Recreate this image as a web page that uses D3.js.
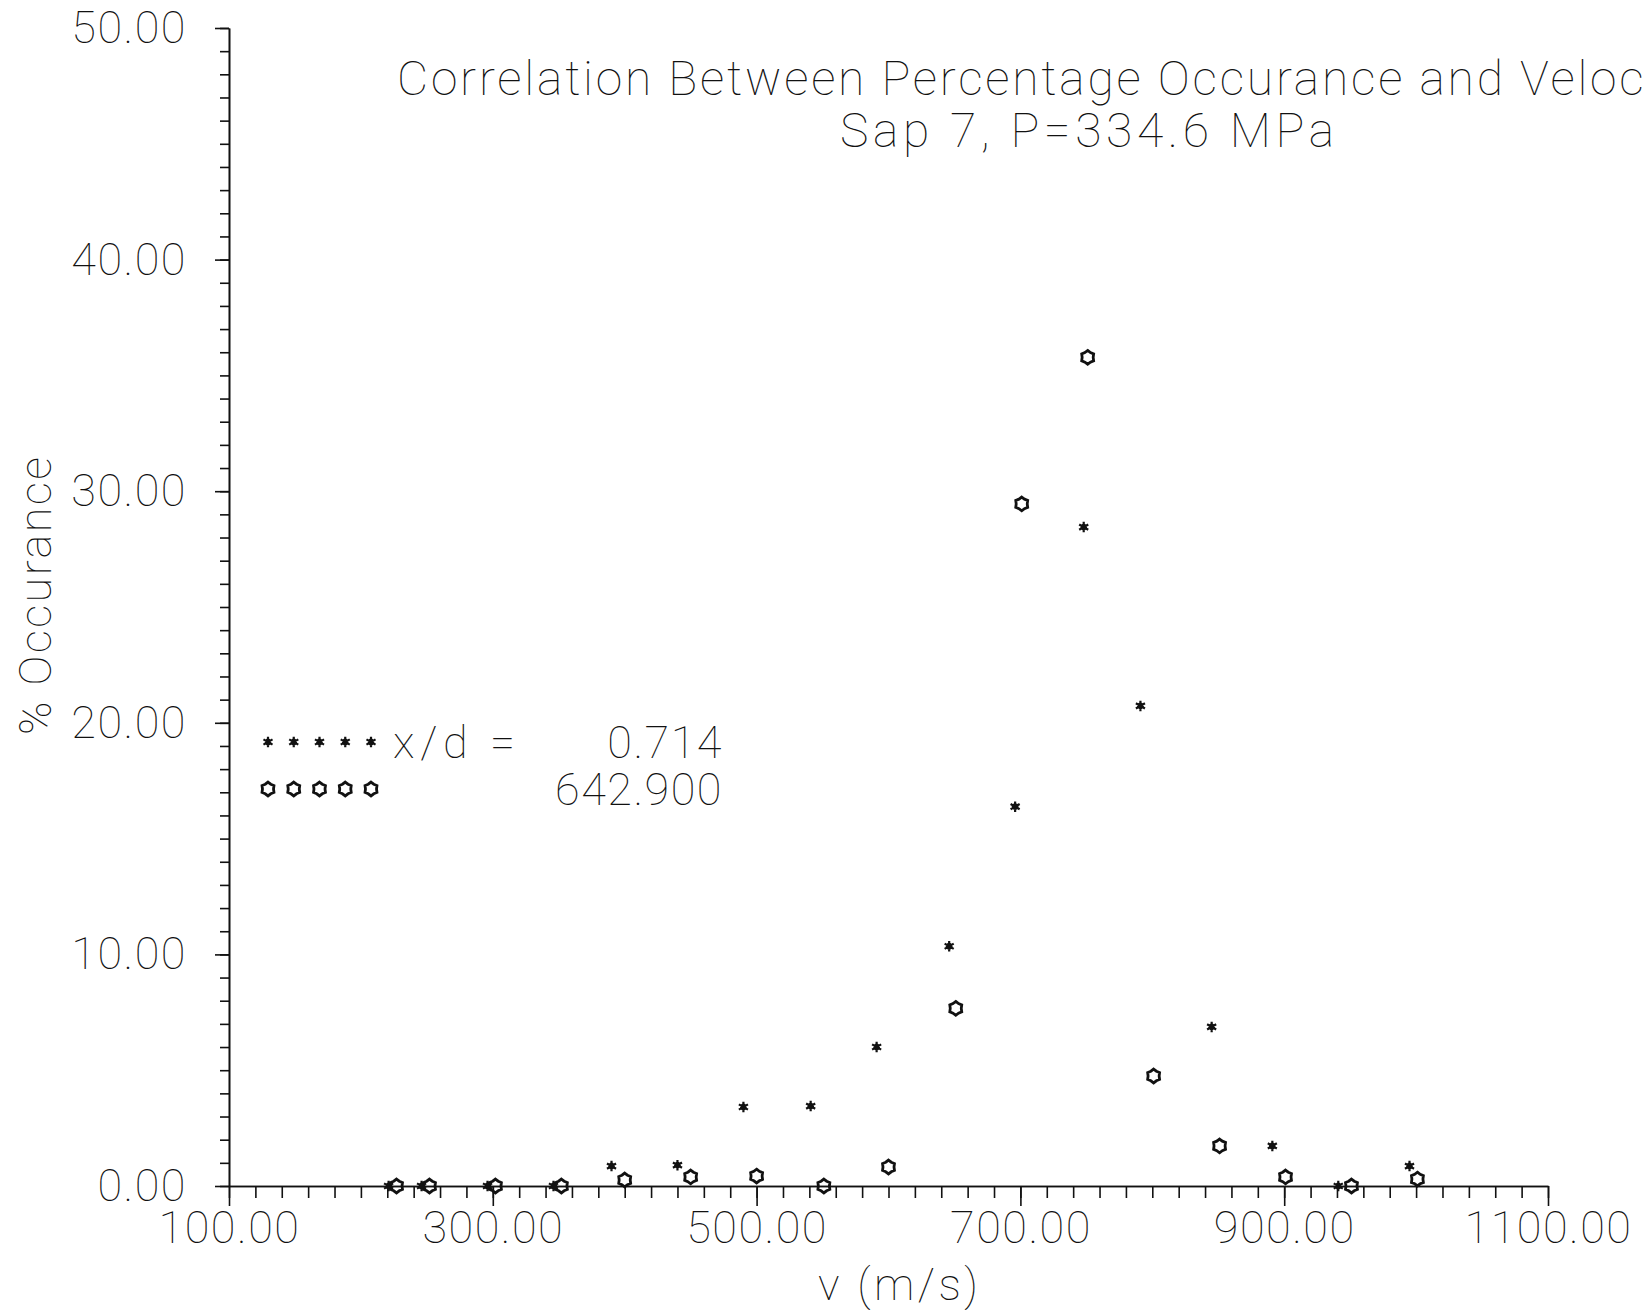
<!DOCTYPE html>
<html>
<head>
<meta charset="utf-8">
<script src="https://cdn.jsdelivr.net/npm/d3@7"></script>
<style>
  html, body { margin: 0; padding: 0; background: #fff; }
  svg { display: block; }
  text { font-family: "Roboto", "DejaVu Sans", sans-serif; font-weight: 100; fill: #111; }
</style>
</head>
<body>
<svg id="chart" width="1647" height="1310"></svg>
<script>
// ---------------- data ----------------
const titleLines = ["Correlation Between Percentage Occurance and Velocity", "Sap 7, P=334.6 MPa"];
const xLabel = "v (m/s)";
const yLabel = "% Occurance";

// series 1: x/d = 0.714 (star markers)
const starVelocity = [221, 246, 296, 346, 390, 440, 490, 541, 591, 646, 696, 748, 791, 845, 891, 941, 995];
const starPercent  = [0, 0, 0, 0, 0.86, 0.90, 3.41, 3.45, 6.00, 10.35, 16.38, 28.45, 20.73, 6.87, 1.73, 0, 0.86];

// series 2: 642.900 (hexagon markers)
const hexVelocity = [227, 252, 302, 352, 400, 450, 500, 551, 600, 651, 701, 751, 801, 851, 901, 951, 1001];
const hexPercent  = [0, 0, 0, 0, 0.26, 0.39, 0.43, 0, 0.82, 7.67, 29.45, 35.78, 4.75, 1.73, 0.39, 0, 0.30];

const xMajorTicks = [100, 300, 500, 700, 900, 1100];
const yMajorTicks = [0, 10, 20, 30, 40, 50];
const legendLabels = ["x/d =", ""];
const legendValues = ["0.714", "642.900"];

// ---------------- layout ----------------
const svg = d3.select("#chart");
const x = d3.scaleLinear().domain([100, 1100]).range([229, 1548]);
const y = d3.scaleLinear().domain([0, 50]).range([1186, 28]);
const fmt = d3.format(".2f");
const ink = "#111";
const fontW = 100;

// custom marker shapes
const asterisk = {
  draw(ctx, size) {
    const r = Math.sqrt(size) / 2;
    for (let i = 0; i < 3; i++) {
      const a = Math.PI / 2 + i * Math.PI / 3;
      ctx.moveTo(r * Math.cos(a), r * Math.sin(a));
      ctx.lineTo(-r * Math.cos(a), -r * Math.sin(a));
    }
    const q = r * 0.45;
    ctx.moveTo(q, 0);
    ctx.arc(0, 0, q, 0, 2 * Math.PI);
  }
};
const hexagram = {
  draw(ctx, size) {
    const r = Math.sqrt(size) / 2;
    for (let i = 0; i < 12; i++) {
      const a = -Math.PI / 2 + i * Math.PI / 6;
      const rr = i % 2 === 0 ? r : r * 0.8;
      if (i === 0) ctx.moveTo(rr * Math.cos(a), rr * Math.sin(a));
      else ctx.lineTo(rr * Math.cos(a), rr * Math.sin(a));
    }
    ctx.closePath();
  }
};
const starSym = d3.symbol().type(asterisk).size(110);
const hexSym = d3.symbol().type(hexagram).size(190);

// ---------------- axes ----------------
function styleAxis(g) {
  g.selectAll("path, line").attr("stroke", ink).attr("stroke-width", 1.6);
  g.selectAll("text").attr("fill", ink).style("font-size", "45px")
    .style("font-family", "Roboto, 'DejaVu Sans', sans-serif").style("font-weight", fontW);
}

// y minor
svg.append("g").attr("transform", `translate(${x(100)},0)`)
  .call(d3.axisLeft(y).tickValues(d3.range(0, 51, 1)).tickSize(9).tickSizeOuter(0).tickFormat(""))
  .call(styleAxis);
// y major
svg.append("g").attr("transform", `translate(${x(100)},0)`)
  .call(d3.axisLeft(y).tickValues(yMajorTicks).tickSize(14).tickSizeOuter(0).tickPadding(28).tickFormat(fmt))
  .call(styleAxis)
  .call(g => g.selectAll("text").attr("letter-spacing", "1.5px"));

// x minor
svg.append("g").attr("transform", `translate(0,${y(0)})`)
  .call(d3.axisBottom(x).tickValues(d3.range(100, 1101, 20)).tickSize(12).tickSizeOuter(0).tickFormat(""))
  .call(styleAxis);
// x major
svg.append("g").attr("transform", `translate(0,${y(0)})`)
  .call(d3.axisBottom(x).tickValues(xMajorTicks).tickSize(20).tickSizeOuter(0).tickPadding(5).tickFormat(fmt))
  .call(styleAxis)
  .call(g => g.selectAll("text").attr("letter-spacing", "1.5px"));

// ---------------- titles & labels ----------------
svg.append("text").attr("x", 397).attr("y", 95)
  .attr("textLength", 1303).attr("lengthAdjust", "spacing")
  .style("font-size", "48px").text(titleLines[0]);
svg.append("text").attr("x", 840).attr("y", 147)
  .attr("textLength", 494).attr("lengthAdjust", "spacing")
  .style("font-size", "48px").text(titleLines[1]);

svg.append("text").attr("transform", "translate(35,596) rotate(-90)")
  .attr("text-anchor", "middle").attr("dy", "0.35em")
  .attr("textLength", 278).attr("lengthAdjust", "spacing")
  .style("font-size", "45px").text(yLabel);

svg.append("text").attr("x", 898).attr("y", 1284)
  .attr("text-anchor", "middle").attr("dy", "0.35em")
  .attr("textLength", 160).attr("lengthAdjust", "spacing")
  .style("font-size", "45px").text(xLabel);

// ---------------- data points ----------------
const stars = starVelocity.map((v, i) => ({ v, p: starPercent[i] }));
const hexes = hexVelocity.map((v, i) => ({ v, p: hexPercent[i] }));

svg.append("g").selectAll("path").data(hexes).join("path")
  .attr("transform", d => `translate(${x(d.v)},${y(d.p)})`)
  .attr("d", hexSym).attr("fill", "none").attr("stroke", ink).attr("stroke-width", 2.8);

svg.append("g").selectAll("path").data(stars).join("path")
  .attr("transform", d => `translate(${x(d.v)},${y(d.p)})`)
  .attr("d", starSym).attr("fill", ink).attr("stroke", ink).attr("stroke-width", 2.2);

// ---------------- legend ----------------
const legendX = d3.scalePoint().domain(d3.range(5)).range([268, 371]);
const legendY = d3.scalePoint().domain([0, 1]).range([742, 789]);
const legendSyms = [starSym, hexSym];
const legendWidths = [2.2, 2.8];
const legendFills = [ink, "none"];

[0, 1].forEach(row => {
  const g = svg.append("g");
  g.selectAll("path").data(d3.range(5)).join("path")
    .attr("transform", k => `translate(${legendX(k)},${legendY(row)})`)
    .attr("d", legendSyms[row]).attr("fill", legendFills[row]).attr("stroke", ink)
    .attr("stroke-width", legendWidths[row]);
  if (legendLabels[row]) {
    g.append("text").attr("x", 393).attr("y", legendY(row)).attr("dy", "0.35em")
      .attr("textLength", 122).attr("lengthAdjust", "spacing")
      .style("font-size", "45px").text(legendLabels[row]);
  }
  g.append("text").attr("x", 723).attr("y", legendY(row)).attr("dy", "0.35em")
    .attr("text-anchor", "end").attr("letter-spacing", "1.5px")
    .style("font-size", "45px").text(legendValues[row]);
});
</script>
</body>
</html>
